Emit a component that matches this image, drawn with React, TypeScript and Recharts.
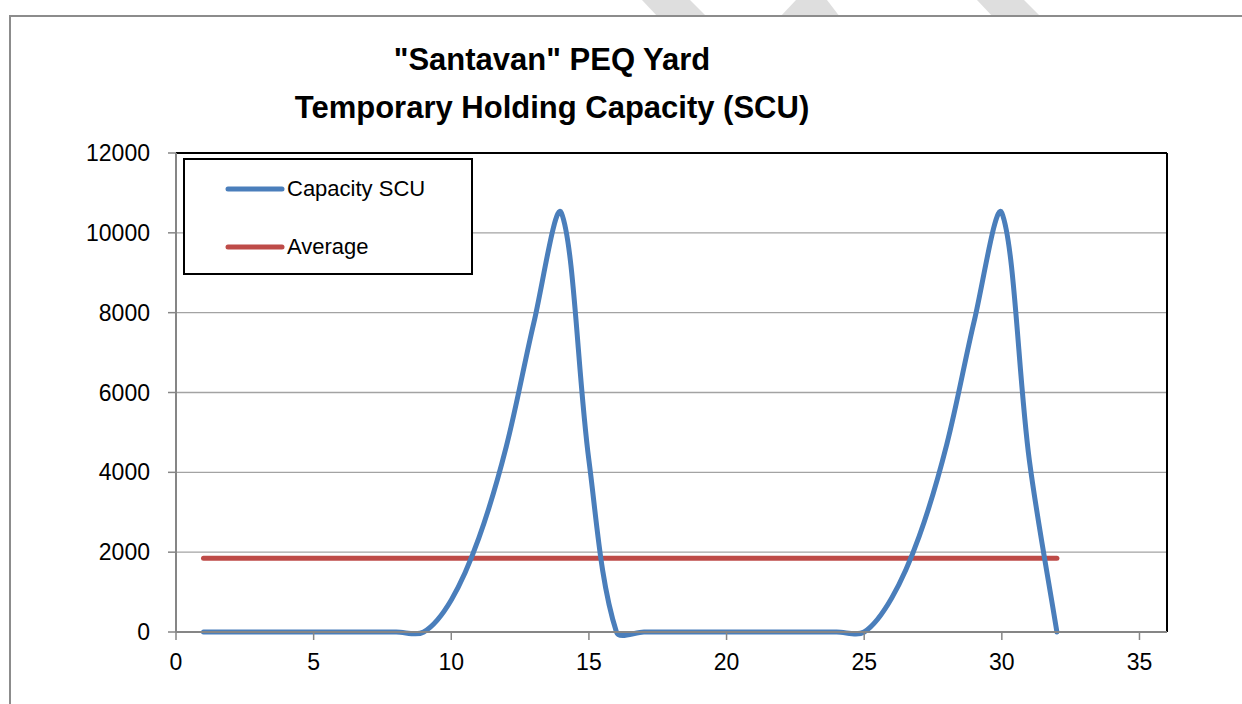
import React from "react"
import {
    LineChart,
    Line,
    XAxis,
    YAxis,
    CartesianGrid,
    ReferenceLine
} from "recharts"

// data
const days = [
    1, 2, 3, 4, 5, 6, 7, 8, 9, 10, 11, 12, 13, 14, 15, 16,
    17, 18, 19, 20, 21, 22, 23, 24, 25, 26, 27, 28, 29, 30, 31, 32
]

const capacitySCU = [
    0, 0, 0, 0, 0, 0, 0, 0, 0, 800, 2350, 4650, 7750, 10500, 4300, 0,
    0, 0, 0, 0, 0, 0, 0, 0, 0, 850, 2400, 4700, 7800, 10500, 4300, 0
]

const averageSCU = [
    1850, 1850, 1850, 1850, 1850, 1850, 1850, 1850, 1850, 1850, 1850, 1850, 1850, 1850, 1850, 1850,
    1850, 1850, 1850, 1850, 1850, 1850, 1850, 1850, 1850, 1850, 1850, 1850, 1850, 1850, 1850, 1850
]

const xTicks = [0, 5, 10, 15, 20, 25, 30, 35]
const yTicks = [0, 2000, 4000, 6000, 8000, 10000, 12000]

const titleLines = ['"Santavan" PEQ Yard', "Temporary Holding Capacity (SCU)"]
const seriesNames = ["Capacity SCU", "Average"]

const BLUE = "#4a7ebb"
const RED = "#be4b48"
const AXIS = "#868686"
const FONT = '"Liberation Sans", Arial, sans-serif'

const rows = days.map((d, i) => ({
    day: d,
    capacity: capacitySCU[i],
    average: averageSCU[i]
}))

// Excel-style smoothed line: bezier segments, tangents weighted by chord length
function excelSmooth(context: any) {
    let pts: number[][] = []
    return {
        areaStart() {},
        areaEnd() {},
        lineStart() {
            pts = []
        },
        point(x: number, y: number) {
            pts.push([+x, +y])
        },
        lineEnd() {
            const n = pts.length
            if (!n) return
            context.moveTo(pts[0][0], pts[0][1])
            if (n === 1) return
            const cps = pts.map((p, i) => {
                const prev = pts[Math.max(0, i - 1)]
                const next = pts[Math.min(n - 1, i + 1)]
                const dp = Math.hypot(p[0] - prev[0], p[1] - prev[1])
                const dn = Math.hypot(next[0] - p[0], next[1] - p[1])
                const s = dp + dn || 1
                const tx = next[0] - prev[0]
                const ty = next[1] - prev[1]
                return {
                    inX: p[0] - (tx * dp) / s / 3,
                    inY: p[1] - (ty * dp) / s / 3,
                    outX: p[0] + (tx * dn) / s / 3,
                    outY: p[1] + (ty * dn) / s / 3
                }
            })
            for (let i = 0; i < n - 1; i++) {
                context.bezierCurveTo(
                    cps[i].outX, cps[i].outY,
                    cps[i + 1].inX, cps[i + 1].inY,
                    pts[i + 1][0], pts[i + 1][1]
                )
            }
        }
    }
}

function LegendBox() {
    const colors = [BLUE, RED]
    return (
        <div
            style={{
                position: "absolute",
                left: 183,
                top: 158,
                width: 290,
                height: 117,
                boxSizing: "border-box",
                border: "2px solid #000",
                background: "#fff",
                fontFamily: FONT
            }}
        >
            {seriesNames.map((name, i) => (
                <div
                    key={name}
                    style={{
                        position: "absolute",
                        left: 40,
                        top: 16 + i * 58,
                        height: 26,
                        display: "flex",
                        alignItems: "center",
                        whiteSpace: "nowrap"
                    }}
                >
                    <svg width={60} height={8}>
                        <line x1={3} y1={4} x2={57} y2={4} stroke={colors[i]} strokeWidth={5} strokeLinecap="round" />
                    </svg>
                    <span style={{ fontSize: 22, marginLeft: 2, color: "#000" }}>{name}</span>
                </div>
            ))}
        </div>
    )
}

export default function App() {
    return (
        <div
            style={{
                position: "absolute",
                left: 0,
                top: 0,
                width: 1242,
                height: 704,
                overflow: "hidden",
                background: "#fff"
            }}
        >
            {/* faint page watermark above the chart frame */}
            <svg width={1242} height={20} style={{ position: "absolute", left: 0, top: 0 }}>
                <polygon points="642,0 690,0 707,17 658,17" fill="#dedede" />
                <polygon points="796,0 827,0 840,17 780,17" fill="#dedede" />
                <polygon points="977,0 1024,0 1041,17 993,17" fill="#dedede" />
            </svg>

            <div
                style={{
                    position: "absolute",
                    left: 9,
                    top: 15,
                    width: 1300,
                    height: 800,
                    borderLeft: "2px solid #8c8c8c",
                    borderTop: "2px solid #8c8c8c",
                    background: "#fff"
                }}
            />

            <div style={{ position: "absolute", left: 0, top: 0 }}>
                <LineChart
                    width={1242}
                    height={704}
                    data={rows}
                    margin={{ top: 153, right: 75, bottom: 32, left: 0 }}
                >
                    <CartesianGrid vertical={false} stroke="#a3a3a3" strokeWidth={1.3} />
                    <XAxis
                        dataKey="day"
                        type="number"
                        domain={[0, 36]}
                        ticks={xTicks}
                        height={40}
                        axisLine={{ stroke: AXIS, strokeWidth: 2 }}
                        tickLine={{ stroke: AXIS, strokeWidth: 1.5 }}
                        tickSize={8}
                        tickMargin={14}
                        tick={{ fill: "#000", fontSize: 23, fontFamily: FONT }}
                    />
                    <YAxis
                        type="number"
                        domain={[0, 12000]}
                        ticks={yTicks}
                        width={176}
                        axisLine={{ stroke: AXIS, strokeWidth: 2 }}
                        tickLine={{ stroke: AXIS, strokeWidth: 1.5 }}
                        tickSize={8}
                        tickMargin={18}
                        tick={{ fill: "#000", fontSize: 23, fontFamily: FONT }}
                    />
                    <ReferenceLine y={12000} stroke="#000" strokeWidth={2} />
                    <ReferenceLine x={36} stroke="#000" strokeWidth={2} />
                    <Line
                        dataKey="average"
                        type="linear"
                        stroke={RED}
                        strokeWidth={5}
                        strokeLinecap="round"
                        dot={false}
                        activeDot={false}
                        isAnimationActive={false}
                    />
                    <Line
                        dataKey="capacity"
                        type={excelSmooth as any}
                        stroke={BLUE}
                        strokeWidth={5}
                        strokeLinecap="round"
                        strokeLinejoin="round"
                        dot={false}
                        activeDot={false}
                        isAnimationActive={false}
                    />
                </LineChart>
            </div>

            {titleLines.map((t, i) => (
                <div
                    key={t}
                    style={{
                        position: "absolute",
                        left: 252,
                        width: 600,
                        top: 40 + i * 48,
                        textAlign: "center",
                        fontFamily: FONT,
                        fontWeight: "bold",
                        fontSize: 31,
                        lineHeight: "40px",
                        color: "#000",
                        whiteSpace: "nowrap"
                    }}
                >
                    {t}
                </div>
            ))}

            <LegendBox />
        </div>
    )
}
